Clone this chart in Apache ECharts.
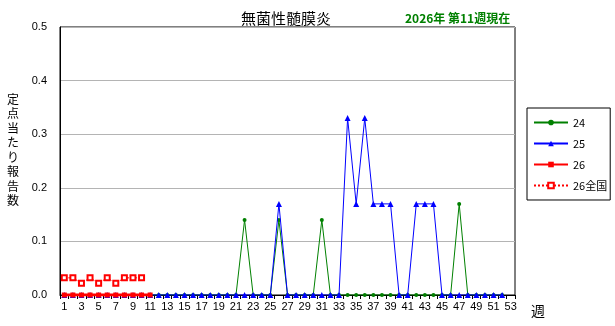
<!DOCTYPE html>
<html><head><meta charset="utf-8">
<script src="https://cdn.jsdelivr.net/npm/echarts@6/dist/echarts.min.js"></script>
<style>html,body{margin:0;padding:0;background:#fff}#c{width:615px;height:326px}</style>
</head><body><div id="c"></div>
<script>
var weeks = ['1','2','3','4','5','6','7','8','9','10','11','12','13','14','15','16','17','18','19','20','21','22','23','24','25','26','27','28','29','30','31','32','33','34','35','36','37','38','39','40','41','42','43','44','45','46','47','48','49','50','51','52','53'];
var s24 = [0,0,0,0,0,0,0,0,0,0,0,0,0,0,0,0,0,0,0,0,0,0.14,0,0,0,0.14,0,0,0,0,0.14,0,0,0,0,0,0,0,0,0,0,0,0,0,0,0,0.17,0,0,0,0,0];
var s25 = [0,0,0,0,0,0,0,0,0,0,0,0,0,0,0,0,0,0,0,0,0,0,0,0,0,0.17,0,0,0,0,0,0,0,0.33,0.17,0.33,0.17,0.17,0.17,0,0,0.17,0.17,0.17,0,0,0,0,0,0,0,0];
var s26 = [0,0,0,0,0,0,0,0,0,0,0];
var s26nat = [0.032,0.032,0.022,0.032,0.022,0.032,0.022,0.032,0.032,0.032];
var names = ['24','25','26','26全国'];
var yTitle = '定点当たり報告数';

var jp = '"Noto Sans CJK JP", sans-serif';
var graphics = [{type:'text', left:531, top:304, style:{text:'週', fill:'#000', font:'14px '+jp}}];
yTitle.split('').forEach(function(ch, i){
  graphics.push({type:'text', left:7, top:93 + i*14.5, style:{text:ch, fill:'#000', font:'12px '+jp}});
});
var chart = echarts.init(document.getElementById('c'));
chart.setOption({
  animation:false,
  textStyle:{fontFamily:jp},
  title:[
    {text:'無菌性髄膜炎', left:281, top:6, textAlign:'center', textStyle:{fontSize:15, fontWeight:'normal', color:'#000', fontFamily:jp}},
    {text:'2026年 第11週現在', left:400, top:7, textStyle:{fontSize:12, fontWeight:'bold', color:'#008000', fontFamily:jp}}
  ],
  graphic:graphics,
  legend:{
    orient:'vertical', left:527, top:108,
    padding:[9,3,9,6], itemGap:10, itemWidth:34, itemHeight:7,
    borderColor:'#000', borderWidth:1,
    textStyle:{fontSize:11, color:'#000', fontFamily:jp},
    data:names
  },
  grid:{left:60, right:100, top:27, bottom:31, show:true, borderColor:'#000', borderWidth:1, containLabel:false},
  xAxis:{
    type:'category', data:weeks, boundaryGap:true,
    axisLine:{lineStyle:{color:'#000', width:1}},
    axisTick:{show:true, interval:0, length:4, lineStyle:{color:'#000'}},
    axisLabel:{interval:1, color:'#000', fontSize:11, margin:6, fontFamily:'"Liberation Sans", sans-serif'},
    splitLine:{show:false}
  },
  yAxis:{
    type:'value', min:0, max:0.5, interval:0.1,
    axisLine:{show:true, lineStyle:{color:'#000'}},
    axisTick:{show:false},
    axisLabel:{color:'#000', fontSize:11, margin:13, fontFamily:'"Liberation Sans", sans-serif', formatter:function(v){return v.toFixed(1);}},
    splitLine:{show:true, lineStyle:{color:'#b4b4b4', width:1}}
  },
  series:[
    {name:names[0], type:'line', data:s24, symbol:'circle', symbolSize:4, showAllSymbol:true, itemStyle:{color:'#008000'}, lineStyle:{color:'#008000', width:1}, z:2},
    {name:names[1], type:'line', data:s25, symbol:'triangle', symbolSize:6, showAllSymbol:true, itemStyle:{color:'#0000ff'}, lineStyle:{color:'#0000ff', width:1}, z:3},
    {name:names[2], type:'line', data:s26, symbol:'rect', symbolSize:5, showAllSymbol:true, itemStyle:{color:'#ff0000'}, lineStyle:{color:'#ff0000', width:3}, z:4},
    {name:names[3], type:'line', data:s26nat, symbol:'emptyRect', symbolSize:5, showAllSymbol:true, itemStyle:{color:'#ff0000', borderWidth:1}, lineStyle:{color:'#ff0000', width:1, type:[2,2]}, z:5}
  ]
});
</script></body></html>
